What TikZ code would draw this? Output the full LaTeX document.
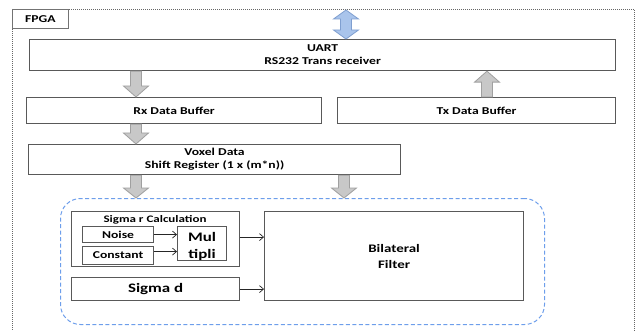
\documentclass[tikz,border=0pt]{standalone}
\usepackage{fontspec}
\setmainfont{Carlito}[FakeStretch=1.3]
\usetikzlibrary{calc,arrows.meta}

\definecolor{boxline}{HTML}{595959}
\definecolor{fatfill}{HTML}{C8C8C8}
\definecolor{fatline}{HTML}{A0A0A0}
\definecolor{bluefill}{HTML}{A9C4EB}
\definecolor{blueline}{HTML}{7F9FD0}
\definecolor{bluedash}{HTML}{6D9EEB}

\tikzset{
  blk/.style={draw=boxline, line width=1.15pt, fill=white, inner sep=0pt,
    anchor=north west, align=center,
    font=\bfseries\fontsize{10.5}{13}\selectfont},
  bigtext/.style={font=\bfseries\fontsize{13}{17}\selectfont},
  midtext/.style={font=\bfseries\fontsize{11.5}{16}\selectfont},
  thinarr/.style={draw=black!85, line width=0.7pt,
    -{Straight Barb[length=4pt,width=7pt]}},
  fatarr/.style={fill=fatfill, draw=fatline, line width=0.8pt},
  bluearr/.style={fill=bluefill, draw=blueline, line width=0.8pt},
  group/.style={draw=bluedash, line width=1pt, dash pattern=on 4pt off 2.5pt,
    rounded corners=20pt, inner sep=0pt, anchor=north west},
  fpgaframe/.style={draw=black!60, line width=0.6pt, dash pattern=on 1pt off 1pt},
}

% block arrow from #2 to #3 (shaft half width 5.5pt, head half width 12.5pt)
\newcommand\fatarrow[3][10pt]{%
  \path (#2) coordinate (fa-s) (#3) coordinate (fa-e);
  \coordinate (fa-h) at ($(fa-e)!#1!(fa-s)$);
  \filldraw[fatarr]
    ($(fa-s)!5.5pt!90:(fa-e)$) -- ($(fa-h)!5.5pt!90:(fa-e)$) --
    ($(fa-h)!12.5pt!90:(fa-e)$) -- (fa-e) -- ($(fa-h)!12.5pt!-90:(fa-e)$) --
    ($(fa-h)!5.5pt!-90:(fa-e)$) -- ($(fa-s)!5.5pt!-90:(fa-e)$) -- cycle;
}

\begin{document}
\begin{tikzpicture}[x=1pt,y=-1pt]
\useasboundingbox (0,0) rectangle (636,331);

% FPGA frame and its tab
\draw[fpgaframe] (12,9) rectangle (634,345);
\node[blk, draw=black!55, line width=0.6pt, minimum width=56pt, minimum height=19pt] (fpga) at (12,9) {FPGA};

% main blocks
\node[blk, minimum width=586pt, minimum height=31pt] (uart) at (29,39) {UART\\RS232 Trans receiver};
\node[blk, minimum width=295pt, minimum height=26pt] (rx) at (26,97) {Rx Data Buffer};
\node[blk, minimum width=278pt, minimum height=26pt] (tx) at (337,97) {Tx Data Buffer};
\node[blk, minimum width=372pt, minimum height=30pt] (vox) at (28,144) {Voxel Data\\Shift Register (1 x (m*n))};

% filter group
\node[group, minimum width=484pt, minimum height=126pt] (grp) at (60,198) {};
\node[blk, minimum width=168pt, minimum height=55pt] (sigr) at (71,211) {};
\node[font=\bfseries\fontsize{10}{12}\selectfont, inner sep=0pt] (sigrt) at (155,220) {Sigma r Calculation};
\node[blk, minimum width=71pt, minimum height=16pt] (noise) at (82,226) {Noise};
\node[blk, minimum width=71pt, minimum height=18pt] (const) at (82,246) {Constant};
\node[blk, minimum width=49pt, minimum height=34pt] (mul) at (177,226) {};
\node[bigtext, align=center, inner sep=0pt] (multxt) at ([yshift=-3pt]mul.center) {Mul\\tipli};
\node[blk, bigtext, minimum width=168pt, minimum height=23pt] (sigd) at (71,277) {Sigma d};
\node[blk, midtext, minimum width=259pt, minimum height=89pt] (bil) at (264,211) {Bilateral\\Filter};

% thin connectors
\draw[thinarr] (noise.east) -- (noise.east -| mul.west);
\draw[thinarr] ([yshift=4pt]const.east) -- ([yshift=4pt]const.east -| mul.west);
\draw[thinarr] ([yshift=2pt]sigr.east) -- ([yshift=2pt]sigr.east -| bil.west);
\draw[thinarr] (sigd.east) -- (sigd.east -| bil.west);

% block arrows
\coordinate (c1) at (136,0);
\coordinate (c2) at (344,0);
\coordinate (c3) at (487,0);
\fatarrow[11pt]{uart.south -| c1}{rx.north -| c1}
\fatarrow[11pt]{rx.south -| c1}{vox.north -| c1}
\fatarrow{vox.south -| c1}{grp.north -| c1}
\fatarrow{vox.south -| c2}{grp.north -| c2}
\fatarrow[11pt]{tx.north -| c3}{uart.south -| c3}

% host link (double-headed)
\coordinate (host) at (346,10);
\path (uart.north -| host) coordinate (hb);
\filldraw[bluearr]
  (host) -- ($(host)+(12.5,9)$) -- ($(host)+(5.5,9)$) -- ($(hb)+(5.5,-9)$) --
  ($(hb)+(12.5,-9)$) -- (hb) -- ($(hb)+(-12.5,-9)$) -- ($(hb)+(-5.5,-9)$) --
  ($(host)+(-5.5,9)$) -- ($(host)+(-12.5,9)$) -- cycle;
\end{tikzpicture}
\end{document}
